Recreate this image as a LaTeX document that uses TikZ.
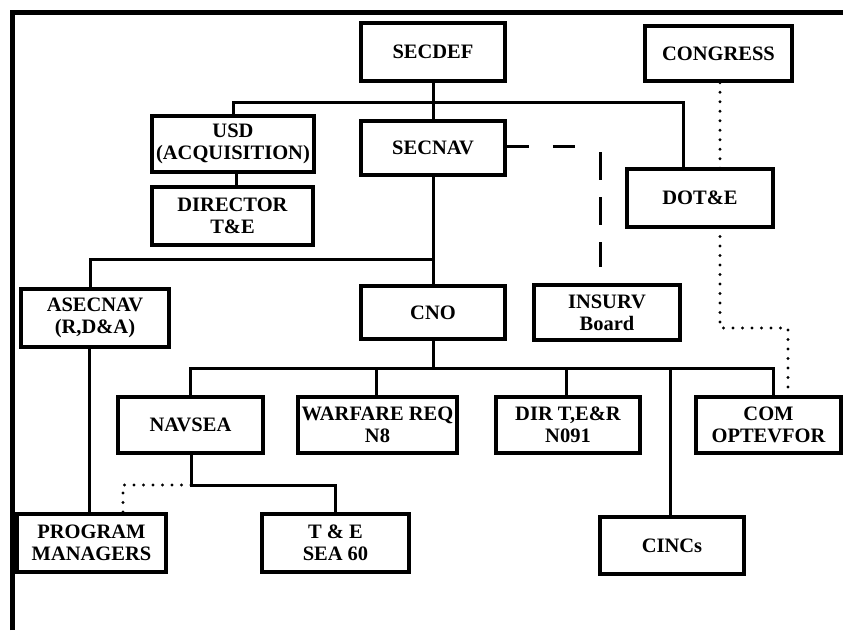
\documentclass[tikz,border=0pt]{standalone}
\usepackage{fontspec}
\setmainfont{Liberation Serif}
\begin{document}
\begin{tikzpicture}[x=1pt,y=-1pt,
  orgbox/.style={draw, line width=3.5pt, inner sep=0pt, align=center,
    font=\fontsize{20.5}{22}\selectfont\bfseries},
  link/.style={line width=3pt},
  dotlink/.style={line width=3.4pt, line cap=round, dash pattern=on 0pt off 9.5pt},
  dashlink/.style={line width=3pt},
  frameline/.style={line width=5pt}]
\useasboundingbox (0,0) rectangle (843,630);
% frame
\coordinate (fr1) at (12,630);
\coordinate (fr2) at (12,12);
\coordinate (fr3) at (845,12);
\draw[frameline] (fr1) -- (fr2) -- (fr3);
% boxes
\node[orgbox, minimum width=144pt, minimum height=58pt] (secdef) at (433,52) {SECDEF};
\node[orgbox, minimum width=147pt, minimum height=55pt] (congress) at (718.5,53.5) {CONGRESS};
\node[orgbox, minimum width=162pt, minimum height=56pt] (usd) at (233,144) {USD\\(ACQUISITION)};
\node[orgbox, minimum width=144pt, minimum height=54pt] (secnav) at (433,148) {SECNAV};
\node[orgbox, minimum width=161pt, minimum height=58pt] (director) at (232.5,216) {DIRECTOR\\T\&E};
\node[orgbox, minimum width=146pt, minimum height=58pt] (dote) at (700,198) {DOT\&E};
\node[orgbox, minimum width=148pt, minimum height=58pt] (asecnav) at (95,318) {ASECNAV\\(R,D\&A)};
\node[orgbox, minimum width=144pt, minimum height=53pt] (cno) at (433,312.5) {CNO};
\node[orgbox, minimum width=146pt, minimum height=55pt] (insurv) at (607,312.5) {INSURV\\Board};
\node[orgbox, minimum width=145pt, minimum height=56pt] (navsea) at (190.5,425) {NAVSEA};
\node[orgbox, minimum width=159pt, minimum height=56pt] (warfare) at (377.5,425) {WARFARE REQ\\N8};
\node[orgbox, minimum width=144pt, minimum height=56pt] (dirter) at (568,425) {DIR T,E\&R\\N091};
\node[orgbox, minimum width=145pt, minimum height=56pt] (com) at (768.5,425) {COM\\OPTEVFOR};
\node[orgbox, minimum width=149pt, minimum height=58pt] (program) at (91.5,543) {PROGRAM\\MANAGERS};
\node[orgbox, minimum width=147pt, minimum height=58pt] (tesea) at (335.5,543) {T \& E\\SEA 60};
\node[orgbox, minimum width=144pt, minimum height=57pt] (cincs) at (672,545.5) {CINCs};
% top bus
\coordinate (busL) at (233,102);
\coordinate (busR) at (683,102);
\draw[link] (secdef.south) -- (secnav.north);
\draw[link] (usd.north) -- (busL) -- (busR) -- (busR |- dote.north);
\draw[link] (director.north -| 236,0) -- (236,172);
% secnav down
\coordinate (br) at (433,259);
\draw[link] (secnav.south) -- (cno.north);
\draw[link] (br) -- (90,259) -- (90,289);
\draw[link] (asecnav.south -| 89,0) -- (89,514);
% cno bus
\coordinate (cbL) at (190,368);
\coordinate (cbR) at (773,368);
\draw[link] (cno.south) -- (433,368);
\draw[link] (cbL |- navsea.north) -- (cbL) -- (cbR) -- (cbR |- com.north);
\draw[link] (376,368) -- (376,397);
\draw[link] (566,368) -- (566,397);
\draw[link] (670,368) -- (670,517);
% navsea to T&E
\coordinate (nv) at (191,485);
\draw[link] (navsea.south -| nv) -- (nv) -- (335,485) -- (335,514);
\draw[dotlink] (nv) -- (123,485) -- (123,514);
% congress dotted
\draw[dotlink] (congress.south -| 720,0) -- (720,169);
\draw[dotlink] (720,227) -- (720,328) -- (788,328) -- (788,397);
% dashed secnav
\coordinate (d1) at (576,146);
\coordinate (d2) at (600,152);
\coordinate (d3) at (600,267);
\draw[dashlink, dash pattern=on 22pt off 24pt] (secnav.east |- 0,146) -- (d1);
\draw[dashlink, dash pattern=on 28pt off 17pt] (d2) -- (d3);
\end{tikzpicture}
\end{document}
